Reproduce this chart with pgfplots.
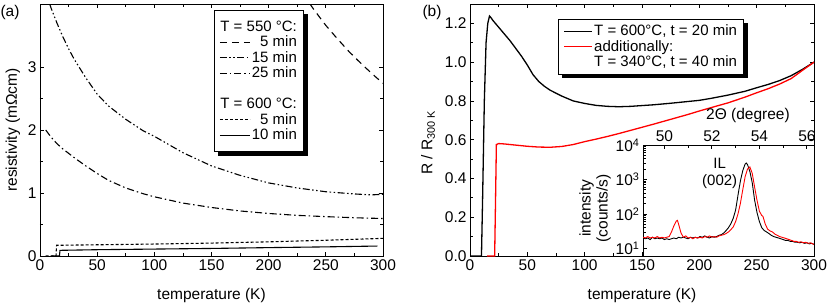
\documentclass[border=0pt]{standalone}
\usepackage{fontspec}
\setmainfont{Liberation Sans}
\usepackage{pgfplots}
\pgfplotsset{compat=1.18}
\usetikzlibrary{backgrounds}
\newcommand{\ls}{\rule[-3pt]{0pt}{14pt}}

\begin{document}
\begin{tikzpicture}
\useasboundingbox (0pt,0pt) rectangle (830pt,306pt);
\pgfplotsset{
 every axis/.append style={
   scale only axis,
   font=\fontsize{15.5}{17}\selectfont,
   tick label style={font=\fontsize{15.5}{17}\selectfont},
   /pgf/number format/assume math mode=true,
   axis line style={line width=0.9pt},
   every tick/.style={line width=0.8pt, black},
 },
}
% ---------------- panel (a)
\begin{axis}[at={(40pt,50pt)}, anchor=south west, width=343pt, height=252pt,
 xmin=0, xmax=300, ymin=0, ymax=4,
 xtick={0,50,100,150,200,250,300}, ytick={0,1,2,3},
 minor x tick num=1, minor y tick num=1,
 xlabel={temperature (K)}, ylabel={resistivity (mΩcm)},
 xlabel style={at={(axis description cs:0.5,-0.155)}, anchor=center},
 ylabel style={at={(axis description cs:-0.079,0.5)}, anchor=center},
 legend cell align=right,
 legend style={name=legA, at={(0.507,0.976)}, anchor=north west, draw=black, line width=0.7pt, fill=white,
   font=\fontsize{15}{17}\selectfont, row sep=0pt, inner xsep=5pt, inner ysep=8.5pt,
   nodes={inner sep=1.5pt},
   legend image code/.code={\draw[#1] (0pt,0pt) -- (30pt,0pt);}},
]
\addplot[forget plot, black, line width=1.1pt, dash pattern=on 7pt off 5pt] coordinates {
(230,4.16) (240,3.90) (250,3.66) (260,3.45) (270,3.25) (280,3.07) (290,2.90) (300,2.74)};
\addplot[forget plot, black, line width=1.1pt, dash pattern=on 7pt off 2.5pt on 1.5pt off 2.5pt on 1.5pt off 2.5pt] coordinates {
(8.5,4.0) (10,3.92) (15,3.69) (20,3.48) (25,3.29) (30,3.12) (40,2.83) (50,2.57) (60,2.38) (75,2.17)
(90,1.99) (100,1.9) (125,1.64) (150,1.43) (175,1.28) (200,1.16) (225,1.08) (250,1.02) (275,0.985) (290,0.97) (300,0.98)};
\addplot[forget plot, black, line width=1.1pt, dash pattern=on 7pt off 3pt on 1.5pt off 3pt] coordinates {
(5,2.0) (10,1.88) (15,1.78) (20,1.7) (25,1.63) (30,1.56) (40,1.43) (50,1.31) (60,1.2) (75,1.08)
(90,0.99) (100,0.94) (125,0.84) (150,0.77) (175,0.715) (200,0.675) (225,0.645) (250,0.625) (275,0.607) (300,0.595)};
\addplot[forget plot, black, line width=1.1pt, dash pattern=on 3pt off 2pt] coordinates {
(5,0) (14,0) (14.5,0.17) (50,0.178) (100,0.19) (150,0.205) (200,0.225) (250,0.25) (300,0.28)};
\addplot[forget plot, black, line width=1.1pt] coordinates {
(10,0) (17,0) (17.5,0.09) (50,0.1) (100,0.11) (150,0.12) (200,0.133) (250,0.145) (295,0.158)};
\addlegendimage{empty legend}\addlegendentry{\ls\hspace*{-34pt}T = 550 °C:}
\addlegendimage{black, line width=1.1pt, dash pattern=on 7pt off 5pt}\addlegendentry{\ls 5 min}
\addlegendimage{black, line width=1.1pt, dash pattern=on 7pt off 2.5pt on 1.5pt off 2.5pt on 1.5pt off 2.5pt}\addlegendentry{\ls 15 min}
\addlegendimage{black, line width=1.1pt, dash pattern=on 7pt off 3pt on 1.5pt off 3pt}\addlegendentry{\ls 25 min}
\addlegendimage{empty legend}\addlegendentry{\ls}
\addlegendimage{empty legend}\addlegendentry{\ls\hspace*{-34pt}T = 600 °C:}
\addlegendimage{black, line width=1.1pt, dash pattern=on 3pt off 2pt}\addlegendentry{\ls 5 min}
\addlegendimage{black, line width=1.1pt}\addlegendentry{\ls 10 min}
\end{axis}
\begin{scope}[on background layer]
\fill[black] ([xshift=4pt,yshift=-4pt]legA.south west) rectangle ([xshift=4pt,yshift=-4pt]legA.north east);
\end{scope}

% ---------------- panel (b)
\begin{axis}[at={(470pt,50pt)}, anchor=south west, width=344pt, height=252pt,
 xmin=0, xmax=300, ymin=0, ymax=1.3,
 xtick={0,50,100,150,200,250,300}, ytick={0,0.2,0.4,0.6,0.8,1.0,1.2},
 yticklabel style={/pgf/number format/.cd, fixed, fixed zerofill, precision=1},
 minor x tick num=1, minor y tick num=1,
 xlabel={temperature (K)}, ylabel={R / R\textsubscript{300 K}},
 xlabel style={at={(axis description cs:0.5,-0.155)}, anchor=center},
 ylabel style={at={(axis description cs:-0.122,0.45)}, anchor=center},
 legend cell align=left,
 legend style={name=legB, at={(0.256,0.940)}, anchor=north west, draw=black, line width=0.7pt, fill=white,
   font=\fontsize{15}{17}\selectfont, row sep=0pt, inner xsep=5pt, inner ysep=4pt,
   nodes={inner sep=1.5pt},
   legend image code/.code={\draw[#1] (0pt,0pt) -- (28pt,0pt);}},
]
\addplot[black, line width=1.3pt] coordinates {
(0,0) (10,0) (11,0.3) (12.5,0.8) (14,1.1) (15.5,1.2) (17,1.238) (18.5,1.228) (20,1.215) (25,1.18) (30,1.145)
(35,1.11) (40,1.07) (45,1.03) (50,0.985) (55,0.935) (60,0.9) (65,0.875) (70,0.855) (80,0.825)
(90,0.80) (100,0.787) (110,0.777) (120,0.772) (130,0.77) (140,0.772) (150,0.776) (160,0.78)
(175,0.788) (190,0.797) (200,0.803) (210,0.813) (225,0.83) (240,0.85) (250,0.868) (260,0.885)
(270,0.905) (280,0.93) (290,0.963) (300,1.0)};
\addlegendentry{\ls T = 600°C, t = 20 min}
\addplot[red, line width=1.3pt] coordinates {
(15,0) (21.5,0) (22.3,0.3) (23,0.575) (25,0.58) (30,0.578) (40,0.572) (50,0.566) (60,0.562)
(70,0.561) (80,0.565) (90,0.575) (100,0.59) (110,0.603) (120,0.617) (130,0.632) (140,0.648)
(150,0.664) (160,0.68) (175,0.705) (190,0.73) (200,0.748) (210,0.765) (225,0.79) (240,0.82)
(250,0.842) (260,0.863) (270,0.887) (280,0.915) (287,0.945) (290,0.958) (300,1.0)};
\addlegendentry{\ls additionally:}
\addlegendimage{empty legend}\addlegendentry{\ls T = 340°C, t = 40 min}
\end{axis}
\begin{scope}[on background layer]
\fill[black] ([xshift=4pt,yshift=-4pt]legB.south west) rectangle ([xshift=4pt,yshift=-4pt]legB.north east);
\end{scope}

% ---------------- inset
\begin{axis}[at={(643pt,50pt)}, anchor=south west, width=171pt, height=111pt,
 axis background/.style={fill=white},
 xmin=49.1, xmax=56.3, ymode=log, ymin=6, ymax=10000,
 xtick={50,52,54,56}, minor x tick num=1,
 xtick pos=right, xticklabel pos=right, ytick pos=left,
 ytick={10,100,1000,10000},
 yticklabels={10\textsuperscript{1},10\textsuperscript{2},10\textsuperscript{3},10\textsuperscript{4}},
 xlabel={2Θ (degree)}, ylabel={intensity\\(counts/s)},
 xlabel style={at={(axis description cs:0.614,1.27)}, anchor=center},
 ylabel style={align=center, at={(axis description cs:-0.28,0.43)}, anchor=center},
]
\addplot[black, line width=0.9pt] coordinates {
(49.1,20) (49.2,19) (49.3,20) (49.4,18) (49.5,21) (49.6,19) (49.7,20) (49.8,19) (49.9,20) (50.0,18)
(50.1,19) (50.2,18) (50.3,19) (50.4,20) (50.5,19) (50.6,21) (50.7,20) (50.8,21) (50.9,20) (51.0,19)
(51.1,21) (51.2,20) (51.3,21) (51.4,20) (51.5,22) (51.6,21) (51.7,23) (51.8,21) (51.9,20) (52.0,22)
(52.1,21) (52.2,22) (52.3,24) (52.4,25) (52.5,28) (52.6,33) (52.7,40) (52.8,52) (52.9,75) (53.0,130)
(53.1,350) (53.2,900) (53.3,1800) (53.4,2800) (53.45,3000) (53.5,2700) (53.6,1700) (53.7,800)
(53.8,250) (53.9,110) (54.0,60) (54.1,40) (54.2,33) (54.3,30) (54.4,27) (54.5,24) (54.6,22)
(54.7,21) (54.8,20) (54.9,19) (55.0,18) (55.1,17) (55.2,17) (55.3,16) (55.4,16) (55.5,15)
(55.6,15) (55.7,14.5) (55.8,15) (55.9,14) (56.0,14.5) (56.1,13.5) (56.2,14) (56.3,13)};
\addplot[red, line width=0.9pt] coordinates {
(49.1,21) (49.2,20) (49.3,22) (49.4,20) (49.5,21) (49.6,20) (49.7,22) (49.8,20) (49.9,21) (50.0,20)
(50.1,21) (50.2,22) (50.3,30) (50.4,45) (50.5,62) (50.55,65) (50.6,50) (50.7,28) (50.8,21) (50.9,23)
(51.0,20) (51.1,21) (51.2,19) (51.3,21) (51.4,20) (51.5,21) (51.6,20) (51.7,22) (51.8,21) (51.9,23)
(52.0,21) (52.1,22) (52.2,21) (52.3,23) (52.4,24) (52.5,25) (52.6,27) (52.7,30) (52.8,35) (52.9,42)
(53.0,60) (53.1,100) (53.2,200) (53.3,500) (53.4,1200) (53.5,2000) (53.6,2300) (53.7,1500)
(53.8,600) (53.9,250) (54.0,120) (54.1,90) (54.15,85) (54.25,50) (54.35,36) (54.45,32) (54.55,30)
(54.65,26) (54.75,24) (54.85,22) (54.95,21) (55.05,20) (55.15,19) (55.25,18) (55.35,17) (55.45,16)
(55.55,16) (55.65,15) (55.75,15.5) (55.85,14.5) (55.95,15) (56.05,14) (56.15,14.5) (56.3,13)};
\node[align=center, font=\fontsize{15}{17}\selectfont, inner sep=0pt] at (axis cs:52.33,1480) {IL\\(002)};
\end{axis}

\node[font=\fontsize{15.5}{17}\selectfont] at (10pt,294pt) {(a)};
\node[font=\fontsize{15.5}{17}\selectfont] at (432pt,294pt) {(b)};
\end{tikzpicture}
\end{document}
